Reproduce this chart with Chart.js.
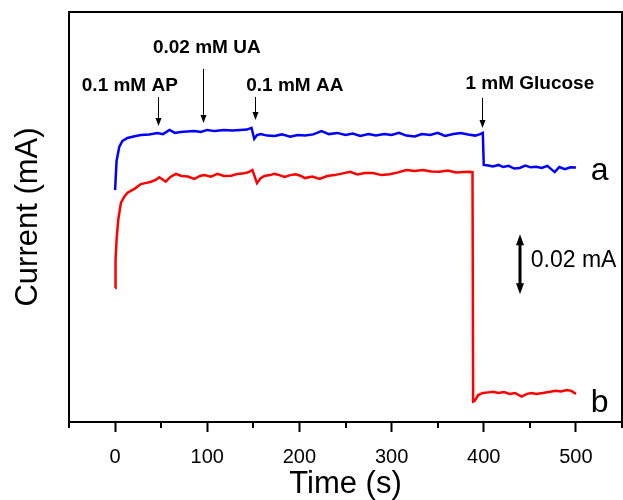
<!DOCTYPE html>
<html>
<head>
<meta charset="utf-8">
<script src="https://cdn.jsdelivr.net/npm/chart.js@4.4.1/dist/chart.umd.min.js"></script>
<style>
  html,body{margin:0;padding:0;background:#fff;}
  #wrap{width:623px;height:500px;}
</style>
</head>
<body>
<div id="wrap"><canvas id="c" width="623" height="500"></canvas></div>
<script>
// ---- data (time in s, current in mA, offset traces) ----
const timeA = [0,1.6,4.5,8,13.5,20,28,37,46,52,59,65,71,78,86,93,100,108,118,127,136,143,148,151,154,158,165,173,181,190,198,206,215,224,232,241,250,258,266,275,283,292,300,308,316,325,333,342,350,358,367,375,383,391,396,399,400,405,410,416,421,427,433,439,445,451,457,463,469,477,482,488,494,500];
const currentA = [0.0775,0.0872,0.0919,0.0939,0.0949,0.0954,0.0959,0.0961,0.0966,0.0962,0.0976,0.0966,0.0969,0.0971,0.0972,0.0969,0.0976,0.0972,0.0976,0.0974,0.0976,0.0977,0.0983,0.0946,0.0959,0.0962,0.0957,0.0956,0.0961,0.0953,0.0959,0.0957,0.0961,0.0972,0.0962,0.0966,0.0959,0.0964,0.0956,0.0962,0.0957,0.0962,0.0959,0.0966,0.0957,0.0954,0.0962,0.0959,0.0966,0.0956,0.0962,0.0966,0.0961,0.0957,0.0962,0.0966,0.0859,0.0857,0.0854,0.0859,0.0852,0.0856,0.0847,0.0849,0.0857,0.0851,0.0853,0.0849,0.0856,0.0835,0.0852,0.0845,0.0851,0.0850];

const timeB = [0,0.5,1.6,3.4,6.3,10,13.5,21,28,34,39,44,48,55,60,66,72,79,86,92,97,104,111,118,126,133,140,145,149,154,158,162,168,173,179,184,190,196,201,206,214,222,230,238,246,255,263,271,280,289,298,307,316,325,334,343,352,361,370,378,385,387.8,388.5,390,394,399,405,410,416,422,428,434,441,447,452,457,464,472,478,484,490,495,500];
const currentB = [0.0448,0.0541,0.0608,0.0675,0.0732,0.0753,0.0766,0.0779,0.0795,0.0799,0.0803,0.0809,0.0818,0.0803,0.0819,0.0829,0.0822,0.0820,0.0812,0.0822,0.0825,0.0820,0.0829,0.0822,0.0823,0.0829,0.0831,0.0835,0.0842,0.0798,0.0815,0.0822,0.0825,0.0829,0.0824,0.0819,0.0825,0.0828,0.0823,0.0815,0.0820,0.0812,0.0822,0.0825,0.0830,0.0836,0.0827,0.0832,0.0832,0.0825,0.0828,0.0834,0.0842,0.0839,0.0842,0.0837,0.0836,0.0840,0.0834,0.0835,0.0836,0.0835,0.0068,0.0070,0.0090,0.0097,0.0099,0.0101,0.0097,0.0100,0.0094,0.0097,0.0085,0.0094,0.0097,0.0094,0.0097,0.0101,0.0104,0.0102,0.0107,0.0104,0.0094];

const seriesNames = ['a', 'b'];
const xMajorTicks = [0, 100, 200, 300, 400, 500];
const xMinorTicks = [-50, 50, 150, 250, 350, 450, 550];

// injection annotations
const injLabels = ['0.1 mM AP', '0.02 mM UA', '0.1 mM AA', '1 mM Glucose'];
const injTimes  = [47, 95, 152, 398];

const scaleBarValue = 0.02; // mA
const scaleBarText = '0.02 mA';

// ---- layout config (positions in data units) ----
const injLayout = [
  {lx: 16,  ly: 0.1107, top: 0.1086, bot: 0.0989},
  {lx: 99.5,ly: 0.1234, top: 0.1180, bot: 0.0999},
  {lx: 195, ly: 0.1107, top: 0.1086, bot: 0.1009},
  {lx: 450, ly: 0.1112, top: 0.1083, bot: 0.0982}
];
const seriesLabelPos = [{x: 516, y: 0.0809}, {x: 516, y: 0.0034}];
const scaleBarPos = {x: 439.2, top: 0.0627, textX: 451, textY: 0.0517};

const FONT = '"Liberation Sans", Arial, Helvetica, sans-serif';

function toXY(t, v){ return t.map((tt,i)=>({x: tt, y: v[i]})); }

const overlay = {
  id: 'overlay',
  afterDraw(chart){
    const {ctx, chartArea: a, scales: {x, y}} = chart;
    ctx.save();
    // frame
    ctx.strokeStyle = '#000';
    ctx.lineWidth = 2;
    ctx.strokeRect(a.left, a.top, a.right - a.left, a.bottom - a.top);
    // minor ticks
    xMinorTicks.forEach(v => {
      const px = Math.round(x.getPixelForValue(v));
      ctx.beginPath();
      ctx.moveTo(px, a.bottom);
      ctx.lineTo(px, a.bottom + 6);
      ctx.stroke();
    });
    // injection arrows + labels
    ctx.fillStyle = '#000';
    ctx.font = 'bold 19px ' + FONT;
    ctx.textAlign = 'center';
    ctx.textBaseline = 'alphabetic';
    injLabels.forEach((lab, i) => {
      const L = injLayout[i];
      ctx.fillText(lab, x.getPixelForValue(L.lx), y.getPixelForValue(L.ly));
      const px = Math.round(x.getPixelForValue(injTimes[i])) + 0.5;
      const y0 = y.getPixelForValue(L.top), y1 = y.getPixelForValue(L.bot);
      ctx.lineWidth = 1;
      ctx.beginPath(); ctx.moveTo(px, y0); ctx.lineTo(px, y1 - 6); ctx.stroke();
      ctx.beginPath();
      ctx.moveTo(px - 3, y1 - 8); ctx.lineTo(px + 3, y1 - 8); ctx.lineTo(px, y1); ctx.closePath(); ctx.fill();
    });
    // series labels
    ctx.font = '32px ' + FONT;
    ctx.textAlign = 'left';
    seriesNames.forEach((n, i) => {
      ctx.fillText(n, x.getPixelForValue(seriesLabelPos[i].x), y.getPixelForValue(seriesLabelPos[i].y));
    });
    // scale bar
    const sx = Math.round(x.getPixelForValue(scaleBarPos.x));
    const st = y.getPixelForValue(scaleBarPos.top);
    const sb = y.getPixelForValue(scaleBarPos.top - scaleBarValue);
    ctx.lineWidth = 3;
    ctx.beginPath(); ctx.moveTo(sx, st + 8); ctx.lineTo(sx, sb - 8); ctx.stroke();
    ctx.beginPath(); ctx.moveTo(sx, st); ctx.lineTo(sx - 4, st + 11); ctx.lineTo(sx + 4, st + 11); ctx.closePath(); ctx.fill();
    ctx.beginPath(); ctx.moveTo(sx, sb); ctx.lineTo(sx - 4, sb - 11); ctx.lineTo(sx + 4, sb - 11); ctx.closePath(); ctx.fill();
    ctx.font = '23px ' + FONT;
    ctx.fillText(scaleBarText, x.getPixelForValue(scaleBarPos.textX), y.getPixelForValue(scaleBarPos.textY));
    ctx.restore();
  }
};

new Chart(document.getElementById('c'), {
  type: 'line',
  data: {
    datasets: [
      {label: seriesNames[0], data: toXY(timeA, currentA), borderColor: '#0000FF', borderWidth: 2.5, pointRadius: 0, tension: 0, fill: false},
      {label: seriesNames[1], data: toXY(timeB, currentB), borderColor: '#FF0000', borderWidth: 2.5, pointRadius: 0, tension: 0, fill: false}
    ]
  },
  options: {
    responsive: false,
    animation: false,
    events: [],
    layout: {padding: {top: 12, right: 1, left: 0, bottom: 0}},
    plugins: {legend: {display: false}, tooltip: {enabled: false}},
    scales: {
      x: {
        type: 'linear',
        min: -50, max: 550,
        afterBuildTicks: (s) => { s.ticks = [...xMajorTicks, ...xMinorTicks].sort((p,q)=>p-q).map(v => ({value: v})); },
        afterFit: (s) => { s.height = 78; s.paddingLeft = 0; s.paddingRight = 0; },
        border: {display: false},
        grid: {
          drawOnChartArea: false, drawTicks: true, tickLength: 10, tickWidth: 2,
          tickColor: (c) => xMajorTicks.includes(c.tick && c.tick.value) ? '#000' : 'rgba(0,0,0,0)'
        },
        ticks: {
          autoSkip: false, maxRotation: 0, padding: 13, color: '#000',
          font: {family: FONT, size: 20},
          callback: (v) => xMajorTicks.includes(v) ? String(v) : ''
        },
        title: {display: true, text: 'Time (s)', color: '#000', font: {family: FONT, size: 31, lineHeight: 1}, padding: 0}
      },
      y: {
        type: 'linear',
        min: 0, max: 0.137,
        afterFit: (s) => { s.width = 69; s.paddingTop = 0; s.paddingBottom = 0; },
        border: {display: false},
        grid: {display: false},
        ticks: {display: false},
        title: {display: true, text: 'Current (mA)', color: '#000', font: {family: FONT, size: 31, lineHeight: 1}, padding: {top: 12.5, bottom: 0}}
      }
    }
  },
  plugins: [overlay]
});
</script>
</body>
</html>
